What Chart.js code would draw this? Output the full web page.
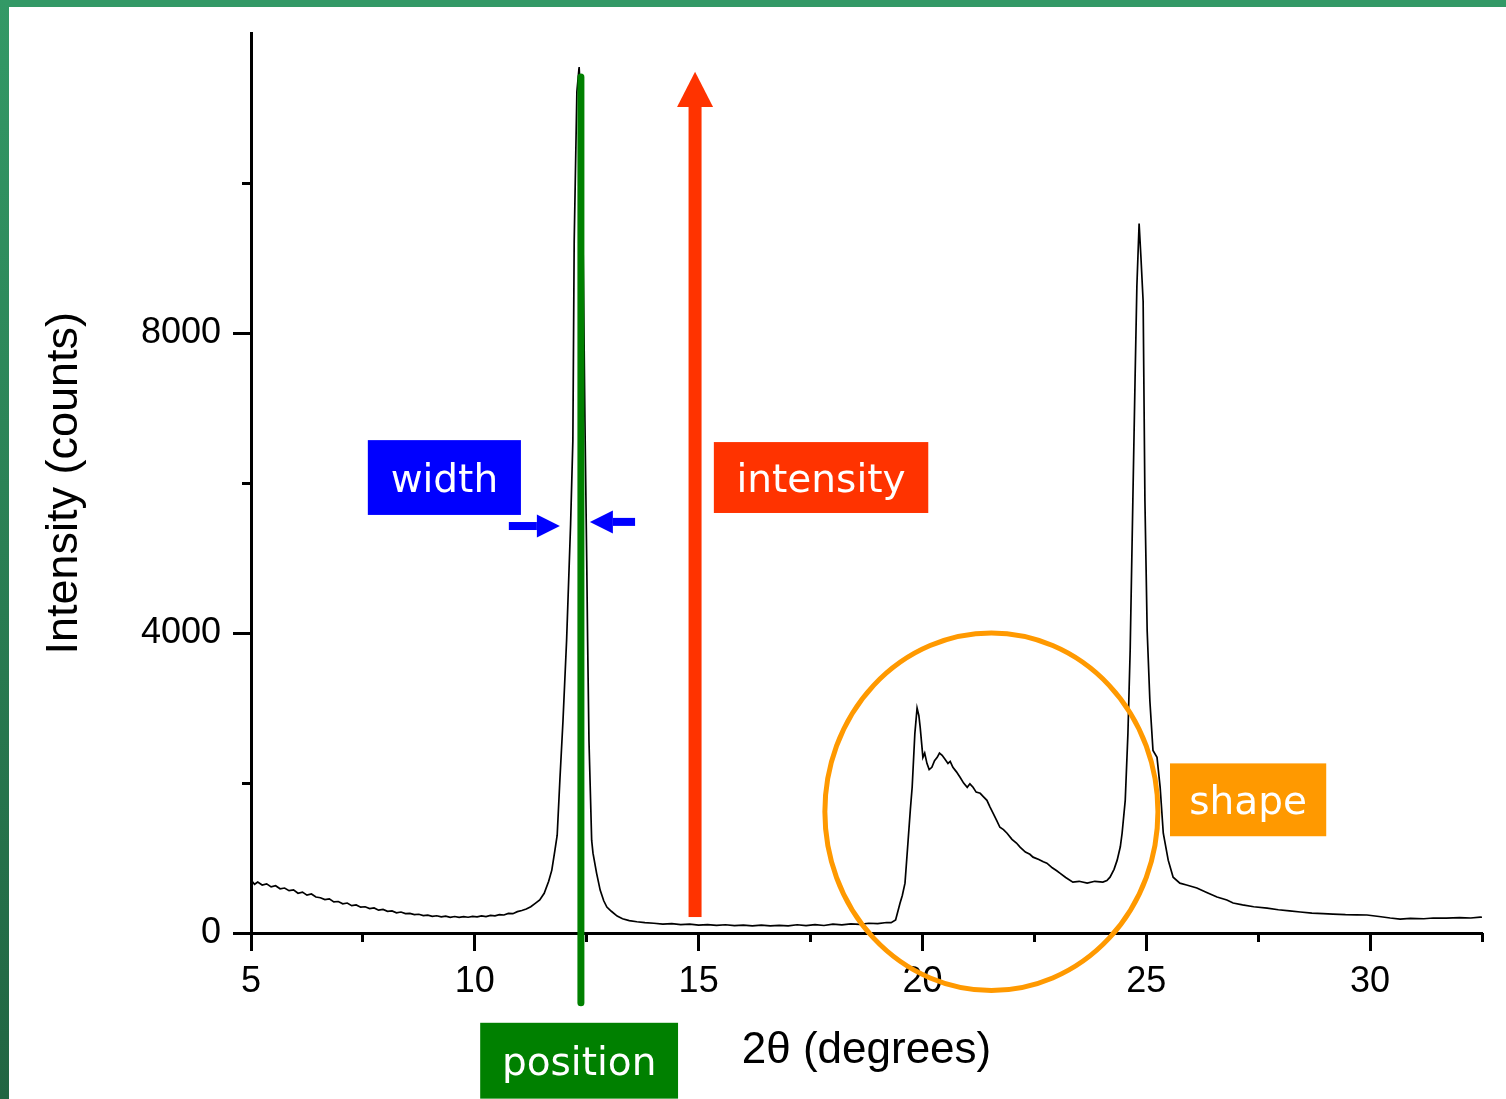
<!DOCTYPE html>
<html>
<head>
<meta charset="utf-8">
<script src="https://cdn.jsdelivr.net/npm/chart.js@4/dist/chart.umd.min.js"></script>
<style>
  html, body { margin: 0; padding: 0; background: #fff; }
  #wrap { position: relative; width: 1506px; height: 1099px; overflow: hidden; }
  #frameTop { position: absolute; left: 0; top: 0; width: 1506px; height: 7px; background: #339966; }
  #frameLeft { position: absolute; left: 0; top: 0; width: 9px; height: 1099px;
    background: linear-gradient(#339966, #216542); }
</style>
</head>
<body>
<div id="wrap">
  <canvas id="xrdChart"></canvas>
  <div id="frameTop"></div>
  <div id="frameLeft"></div>
</div>
<script>
/* global Chart */

var twoTheta = [
  5.00, 5.08, 5.15, 5.25, 5.35, 5.45, 5.55, 5.65, 5.75, 5.85, 5.95, 6.05, 6.15, 6.25, 6.35, 6.45,
  6.55, 6.65, 6.75, 6.85, 6.95, 7.05, 7.15, 7.25, 7.35, 7.45, 7.55, 7.65, 7.75, 7.85, 7.95, 8.05,
  8.15, 8.25, 8.35, 8.45, 8.55, 8.65, 8.75, 8.85, 8.95, 9.05, 9.15, 9.25, 9.35, 9.45, 9.55, 9.65,
  9.75, 9.85, 9.95, 10.05, 10.15, 10.25, 10.35, 10.45, 10.55, 10.65, 10.75, 10.85, 10.95, 11.05,
  11.15, 11.25, 11.35, 11.45, 11.55, 11.65, 11.72, 11.79,
  11.84, 11.90, 11.97, 12.05, 12.14, 12.19, 12.22, 12.28, 12.33, 12.37, 12.42, 12.46, 12.50, 12.52,
  12.55, 12.61, 12.64, 12.72, 12.80, 12.88, 12.95, 13.05, 13.18, 13.30, 13.45, 13.62, 13.80, 14.00,
  14.2, 14.4, 14.6, 14.8, 15.0, 15.2, 15.4, 15.6, 15.8, 16.0, 16.2, 16.4, 16.6, 16.8, 17.0, 17.2,
  17.4, 17.6, 17.8, 18.0, 18.2, 18.4, 18.6, 18.8, 19.0, 19.2, 19.3, 19.4,
  19.50, 19.55, 19.61, 19.68, 19.73, 19.77, 19.83, 19.88, 19.92, 19.95, 20.01, 20.05, 20.10, 20.15,
  20.21, 20.27, 20.33, 20.38, 20.44, 20.50, 20.57, 20.62, 20.68, 20.76, 20.84, 20.92, 21.00, 21.06,
  21.13, 21.20, 21.29, 21.36, 21.44, 21.51, 21.58, 21.66, 21.73, 21.81, 21.89, 22.00, 22.10, 22.18,
  22.30, 22.40, 22.47, 22.60, 22.70, 22.78, 22.90, 23.00, 23.07, 23.20, 23.36, 23.50, 23.68, 23.85,
  24.03, 24.12, 24.19, 24.28, 24.35, 24.42, 24.46, 24.53, 24.59, 24.64, 24.70, 24.75, 24.79, 24.84,
  24.88, 24.93, 24.97, 25.02, 25.08, 25.15, 25.24, 25.31, 25.38, 25.49, 25.60, 25.75, 25.90, 26.13,
  26.35, 26.58, 26.80, 26.94, 27.15, 27.40, 27.70, 27.95, 28.20, 28.44, 28.70, 28.95, 29.17, 29.45,
  29.70, 29.93, 30.20, 30.45, 30.67, 30.90, 31.20, 31.41, 31.70, 32.00, 32.25, 32.46, 32.50
];
var counts = [
  705, 650, 680, 640, 655, 615, 630, 590, 600, 565, 575, 530, 545, 505, 520, 480,
  470, 445, 455, 415, 420, 390, 400, 365, 375, 345, 350, 325, 335, 305, 315, 290,
  295, 270, 280, 258, 262, 245, 250, 232, 238, 222, 230, 215, 225, 210, 220, 208,
  218, 210, 222, 215, 228, 220, 235, 228, 245, 240, 262, 258, 285, 300,
  320, 350, 395, 440, 530, 690, 839, 1105,
  1305, 2037, 2835, 3900, 5458, 6563, 9225, 11222, 11555, 11089, 9092, 6829, 4965, 3900,
  2569, 1238, 1065, 799, 572, 430, 346, 290, 225, 190, 165, 150, 138, 130,
  118, 125, 112, 118, 106, 112, 102, 110, 98, 106, 96, 104, 95, 102, 94, 110,
  98, 112, 100, 118, 108, 122, 115, 130, 124, 140, 138, 175,
  400, 500, 665, 1238, 1650, 1944, 2660, 3000, 2900, 2740, 2343, 2400, 2263, 2180,
  2210, 2300, 2343, 2400, 2370, 2320, 2263, 2290, 2210, 2150, 2077, 2000, 1944, 1990,
  1944, 1880, 1864, 1820, 1770, 1680, 1597, 1500, 1411, 1380, 1331, 1250, 1200, 1145,
  1080, 1050, 1012, 980, 950, 932, 870, 830, 799, 740, 679, 690, 665, 690,
  679, 700, 745, 850, 972, 1150, 1331, 1770, 2660, 3767, 5764, 7400, 8626, 9465,
  9025, 8426, 5764, 4033, 3101, 2436, 2343, 1944, 1331, 972, 745, 665, 640, 600,
  540, 480, 440, 400, 375, 350, 333, 310, 295, 280, 265, 258, 253, 245,
  242, 240, 220, 200, 186, 195, 190, 200, 198, 205, 200, 213, 210
];

var yLabelTicks = [0, 4000, 8000];
var xLabelTicks = [5, 10, 15, 20, 25, 30];

var points = twoTheta.map(function (t, i) { return { x: t, y: counts[i] }; });

// Coloured labels and marks drawn on top of the pattern, placed in data units
var annotationPlugin = {
  id: "xrdAnnotations",
  afterDraw: function (chart) {
    var ctx = chart.ctx;
    var sx = chart.scales.x;
    var sy = chart.scales.y;
    var px = function (v) { return sx.getPixelForValue(v); };
    var py = function (v) { return sy.getPixelForValue(v); };

    function box(x0, x1, y0, y1, color, text) {
      ctx.fillStyle = color;
      ctx.fillRect(px(x0), py(y0), px(x1) - px(x0), py(y1) - py(y0));
      ctx.fillStyle = "#fff";
      ctx.font = "39px 'DejaVu Sans'";
      ctx.textAlign = "center";
      ctx.textBaseline = "middle";
      ctx.fillText(text, (px(x0) + px(x1)) / 2, (py(y0) + py(y1)) / 2 + 4);
    }

    function hArrow(xTail, xTip, yv, color) {
      var tip = px(xTip), tail = px(xTail), cy = py(yv);
      var dir = tip > tail ? 1 : -1;
      var headLen = 23, headHalf = 11.5, shaftHalf = 4;
      ctx.fillStyle = color;
      ctx.fillRect(Math.min(tail, tip - dir * headLen), cy - shaftHalf, Math.abs(tip - dir * headLen - tail), shaftHalf * 2);
      ctx.beginPath();
      ctx.moveTo(tip, cy);
      ctx.lineTo(tip - dir * headLen, cy - headHalf);
      ctx.lineTo(tip - dir * headLen, cy + headHalf);
      ctx.closePath();
      ctx.fill();
    }

    ctx.save();

    // position
    ctx.strokeStyle = "#008000";
    ctx.lineWidth = 7;
    ctx.lineCap = "round";
    ctx.beginPath();
    ctx.moveTo(px(12.37), py(11420));
    ctx.lineTo(px(12.37), py(-930));
    ctx.stroke();
    box(10.12, 14.54, -1198, -2210, "#008000", "position");

    // intensity
    var ax = px(14.92);
    ctx.fillStyle = "#ff3300";
    ctx.fillRect(ax - 6.5, py(11030), 13, py(213) - py(11030));
    ctx.beginPath();
    ctx.moveTo(ax, py(11490));
    ctx.lineTo(ax - 18, py(11020));
    ctx.lineTo(ax + 18, py(11020));
    ctx.closePath();
    ctx.fill();
    box(15.34, 20.13, 6550, 5604, "#ff3300", "intensity");

    // width
    box(7.61, 11.03, 6576, 5578, "#0000ff", "width");
    hArrow(10.76, 11.90, 5430, "#0000ff");
    hArrow(13.58, 12.57, 5485, "#0000ff");

    // shape
    ctx.strokeStyle = "#ff9900";
    ctx.lineWidth = 5;
    ctx.beginPath();
    var cx = px(21.54), cyy = py(1618);
    ctx.ellipse(cx, cyy, px(21.54 + 3.72) - cx, py(1618 - 2385) - cyy, 0, 0, Math.PI * 2);
    ctx.stroke();
    box(25.53, 29.02, 2263, 1291, "#ff9900", "shape");

    ctx.restore();
  }
};

var tickFont = { family: "'Liberation Sans', Arial, sans-serif", size: 36 };
var titleFont = { family: "'Liberation Sans', Arial, sans-serif", size: 45 };

new Chart(document.getElementById("xrdChart").getContext("2d"), {
  type: "line",
  data: {
    datasets: [
      {
        data: points,
        borderColor: "#000",
        borderWidth: 1.7,
        pointRadius: 0,
        tension: 0,
        fill: false
      }
    ]
  },
  plugins: [annotationPlugin],
  options: {
    responsive: true,
    maintainAspectRatio: false,
    animation: false,
    events: [],
    layout: { padding: { left: 0, top: 33, right: 24, bottom: 0 } },
    plugins: {
      legend: { display: false },
      tooltip: { enabled: false }
    },
    scales: {
      x: {
        type: "linear",
        min: 5,
        max: 32.5,
        afterFit: function (s) { s.height = 166; },
        ticks: {
          stepSize: 2.5,
          color: "#000",
          font: tickFont,
          padding: 9,
          maxRotation: 0,
          autoSkip: false,
          callback: function (v) { return xLabelTicks.indexOf(v) >= 0 ? String(v) : ""; }
        },
        grid: {
          drawOnChartArea: false,
          tickLength: 18,
          tickWidth: 3,
          tickColor: function (c) { return c.tick && xLabelTicks.indexOf(c.tick.value) >= 0 ? "#000" : "rgba(0,0,0,0)"; }
        },
        border: { color: "#000", width: 3 },
        title: {
          display: true,
          text: "2θ (degrees)",
          color: "#000",
          font: { family: "'Liberation Sans', Arial, sans-serif", size: 44 },
          padding: { top: 0, bottom: 22 }
        }
      },
      xMinor: {
        type: "linear",
        axis: "x",
        position: { y: 0 },
        min: 5,
        max: 32.5,
        ticks: { stepSize: 2.5, display: false, autoSkip: false },
        grid: {
          drawOnChartArea: false,
          tickLength: 9,
          tickWidth: 3,
          tickColor: function (c) { return c.tick && xLabelTicks.indexOf(c.tick.value) < 0 ? "#000" : "rgba(0,0,0,0)"; }
        },
        border: { display: false }
      },
      y: {
        type: "linear",
        min: 0,
        max: 12000,
        afterFit: function (s) { s.width = 251; },
        ticks: {
          stepSize: 2000,
          color: "#000",
          font: tickFont,
          padding: 12,
          autoSkip: false,
          callback: function (v) { return yLabelTicks.indexOf(v) >= 0 ? String(v) : ""; }
        },
        grid: {
          drawOnChartArea: false,
          tickLength: 18,
          tickWidth: 3,
          tickColor: function (c) { return c.tick && yLabelTicks.indexOf(c.tick.value) >= 0 ? "#000" : "rgba(0,0,0,0)"; }
        },
        border: { color: "#000", width: 3 },
        title: {
          display: true,
          text: "Intensity (counts)",
          color: "#000",
          font: titleFont,
          padding: { top: 38, bottom: 0 }
        }
      },
      yMinor: {
        type: "linear",
        axis: "y",
        position: { x: 5 },
        min: 0,
        max: 12000,
        ticks: { stepSize: 2000, display: false, autoSkip: false },
        grid: {
          drawOnChartArea: false,
          tickLength: 9,
          tickWidth: 3,
          tickColor: function (c) {
            return c.tick && c.tick.value % 4000 !== 0 ? "#000" : "rgba(0,0,0,0)";
          }
        },
        border: { display: false }
      }
    }
  }
});
</script>
</body>
</html>
